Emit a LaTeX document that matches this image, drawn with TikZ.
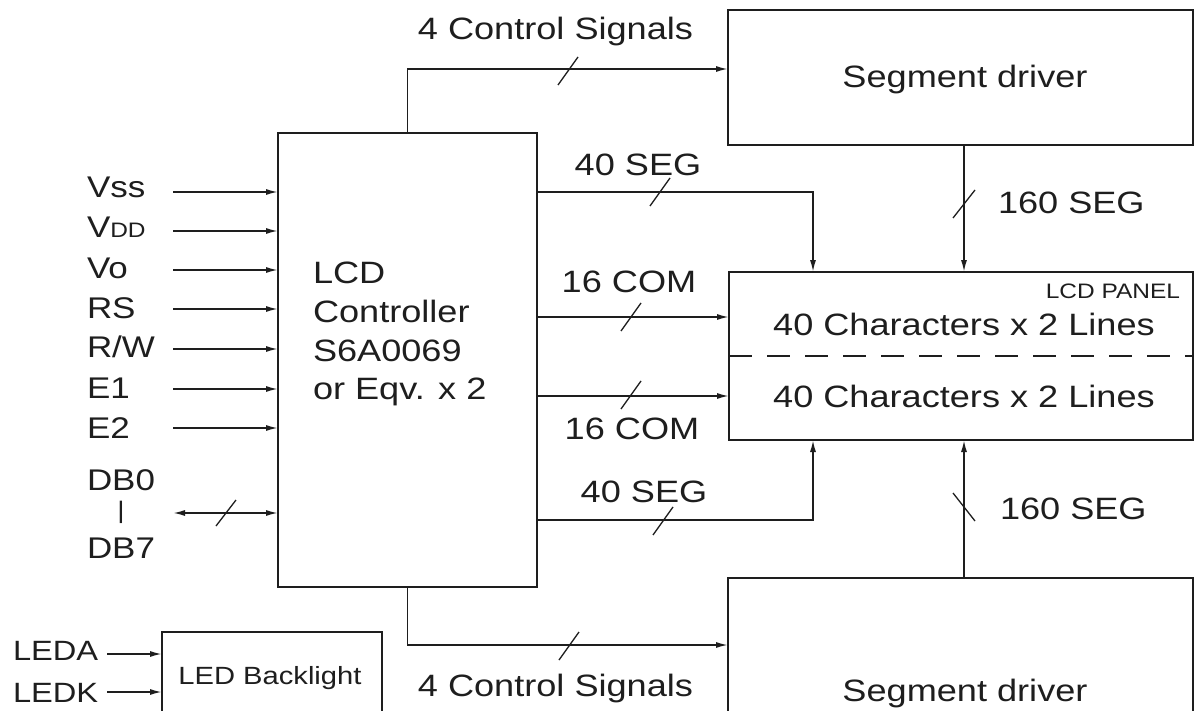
\documentclass[tikz,border=0pt]{standalone}
\usepackage{fontspec}
\setmainfont{Liberation Sans}[FakeStretch=1.17]
\usetikzlibrary{arrows.meta}
\newcommand\myfs[1]{\fontsize{#1}{#1}\selectfont}
\definecolor{ink}{HTML}{1E1E1E}
\begin{document}
\begin{tikzpicture}[x=1bp,y=-1bp,
  box/.style={draw=ink, line width=1.8bp, inner sep=0pt, outer sep=0pt, anchor=north west},
  wire/.style={draw=ink, line width=1.6bp},
  arr/.style={wire, -{Latex[length=12bp,width=6bp]}},
  darr/.style={wire, {Latex[length=12bp,width=6bp]}-{Latex[length=12bp,width=6bp]}},
  tick/.style={draw=ink, line width=1.3bp},
  lbl/.style={inner sep=0pt, outer sep=0pt, text=ink, font=\myfs{31}},
  pin/.style={inner sep=0pt, outer sep=0pt, text=ink, font=\myfs{30}, anchor=base west}]
\useasboundingbox (0,0) rectangle (1195,711);
\clip (0,0) rectangle (1195,711);
\fill[white] (0,0) rectangle (1195,711);

% boxes
\node[box, minimum width=259bp, minimum height=454bp] (ctrl) at (278,133) {};
\node[box, minimum width=465bp, minimum height=135bp] (segtop) at (728,10) {};
\node[box, minimum width=464bp, minimum height=168bp] (lcd) at (729,272) {};
\node[box, minimum width=465bp, minimum height=160bp] (segbot) at (728,578) {};
\node[box, minimum width=220bp, minimum height=120bp] (led) at (162,632) {};
\draw[ink, line width=1.4bp, dash pattern=on 23bp off 15bp] (lcd.west |- 0,356) -- (lcd.east |- 0,356);

% texts in boxes
\node[lbl, anchor=base west] (c1) at (313,283) {LCD};
\node[lbl, anchor=base west] (c2) at (313,322) {Controller};
\node[lbl, anchor=base west] (c3) at (313,361) {S6A0069};
\node[lbl, anchor=base west] (c4) at (313,399) {or Eqv. x 2};
\node[lbl, anchor=base] (st) at (965,88) {Segment driver};
\node[lbl, anchor=base] (sb) at (965,701) {Segment driver};
\node[lbl, anchor=base east, font=\myfs{21}] (lp) at (1180,298.5) {LCD PANEL};
\node[lbl, anchor=base] (l1) at (964,335) {40 Characters x 2 Lines};
\node[lbl, anchor=base] (l2) at (964,407) {40 Characters x 2 Lines};
\node[lbl, anchor=base, font=\myfs{25}] (lb) at (270,684) {LED Backlight};

% connector labels
\node[lbl, anchor=base] (k1) at (555.5,40) {4 Control Signals};
\node[lbl, anchor=base] (k2) at (555.5,696) {4 Control Signals};
\node[lbl, anchor=base] (s1) at (638,176) {40 SEG};
\node[lbl, anchor=base] (s2) at (644,502) {40 SEG};
\node[lbl, anchor=base west] (h1) at (998,214) {160 SEG};
\node[lbl, anchor=base west] (h2) at (1000,519) {160 SEG};
\node[lbl, anchor=base] (m1) at (629,292) {16 COM};
\node[lbl, anchor=base] (m2) at (632,439) {16 COM};

% pins
\node[pin] (pvss) at (87,198) {Vss};
\node[pin] (pvdd) at (87,238) {V{\myfs{21}DD}};
\node[pin] (pvo) at (87,278) {Vo};
\node[pin] (prs) at (87,318) {RS};
\node[pin] (prw) at (87,357) {R/W};
\node[pin] (pe1) at (87,398) {E1};
\node[pin] (pe2) at (87,438) {E2};
\node[pin] (pdb0) at (87,490) {DB0};
\node[lbl, font=\myfs{24}] (pbar) at (121,512) {|};
\node[pin] (pdb7) at (87,558) {DB7};
\node[pin, font=\myfs{28}] (pleda) at (13,660) {LEDA};
\node[pin, font=\myfs{28}] (pledk) at (13,702) {LEDK};

% input arrows
\foreach \n/\y in {a/192,b/231,c/270,d/309,e/349,f/389,g/428} {
  \coordinate (in\n) at (173,\y);
  \draw[arr] (in\n) -- (ctrl.west |- in\n);
}
\coordinate (indb) at (173,513);
\draw[darr] (indb) -- (ctrl.west |- indb);
\draw[tick] (226,513) ++(-10,13) -- ++(20,-26);

\coordinate (inla) at (107,654);
\coordinate (inlk) at (107,692);
\draw[arr] (inla) -- (led.west |- inla);
\draw[arr] (inlk) -- (led.west |- inlk);

% control signals
\draw[arr] (ctrl.north) |- (segtop.west |- 0,69);
\draw[tick] (568,71) ++(-10,14) -- ++(20,-28);
\draw[arr] (ctrl.south) |- (segbot.west |- 0,645);
\draw[tick] (569,646) ++(-10,14) -- ++(20,-28);

% 40 SEG
\draw[arr] (ctrl.east |- 0,192) -| (lcd.north -| 813,0);
\draw[tick] (660,192) ++(-10,14) -- ++(20,-28);
\draw[arr] (ctrl.east |- 0,520) -| (lcd.south -| 813,0);
\draw[tick] (663,521) ++(-10,14) -- ++(20,-28);

% 16 COM
\draw[arr] (ctrl.east |- 0,317) -- (lcd.west |- 0,317);
\draw[tick] (631,317) ++(-10,14) -- ++(20,-28);
\draw[arr] (ctrl.east |- 0,396) -- (lcd.west |- 0,396);
\draw[tick] (631,395) ++(-10,14) -- ++(20,-28);

% 160 SEG
\draw[arr] (segtop.south -| 964,0) -- (lcd.north -| 964,0);
\draw[tick] (964,204) ++(-11,14) -- ++(22,-28);
\draw[arr] (segbot.north -| 964,0) -- (lcd.south -| 964,0);
\draw[tick] (964,507) ++(-11,-14) -- ++(22,28);
\end{tikzpicture}
\end{document}
